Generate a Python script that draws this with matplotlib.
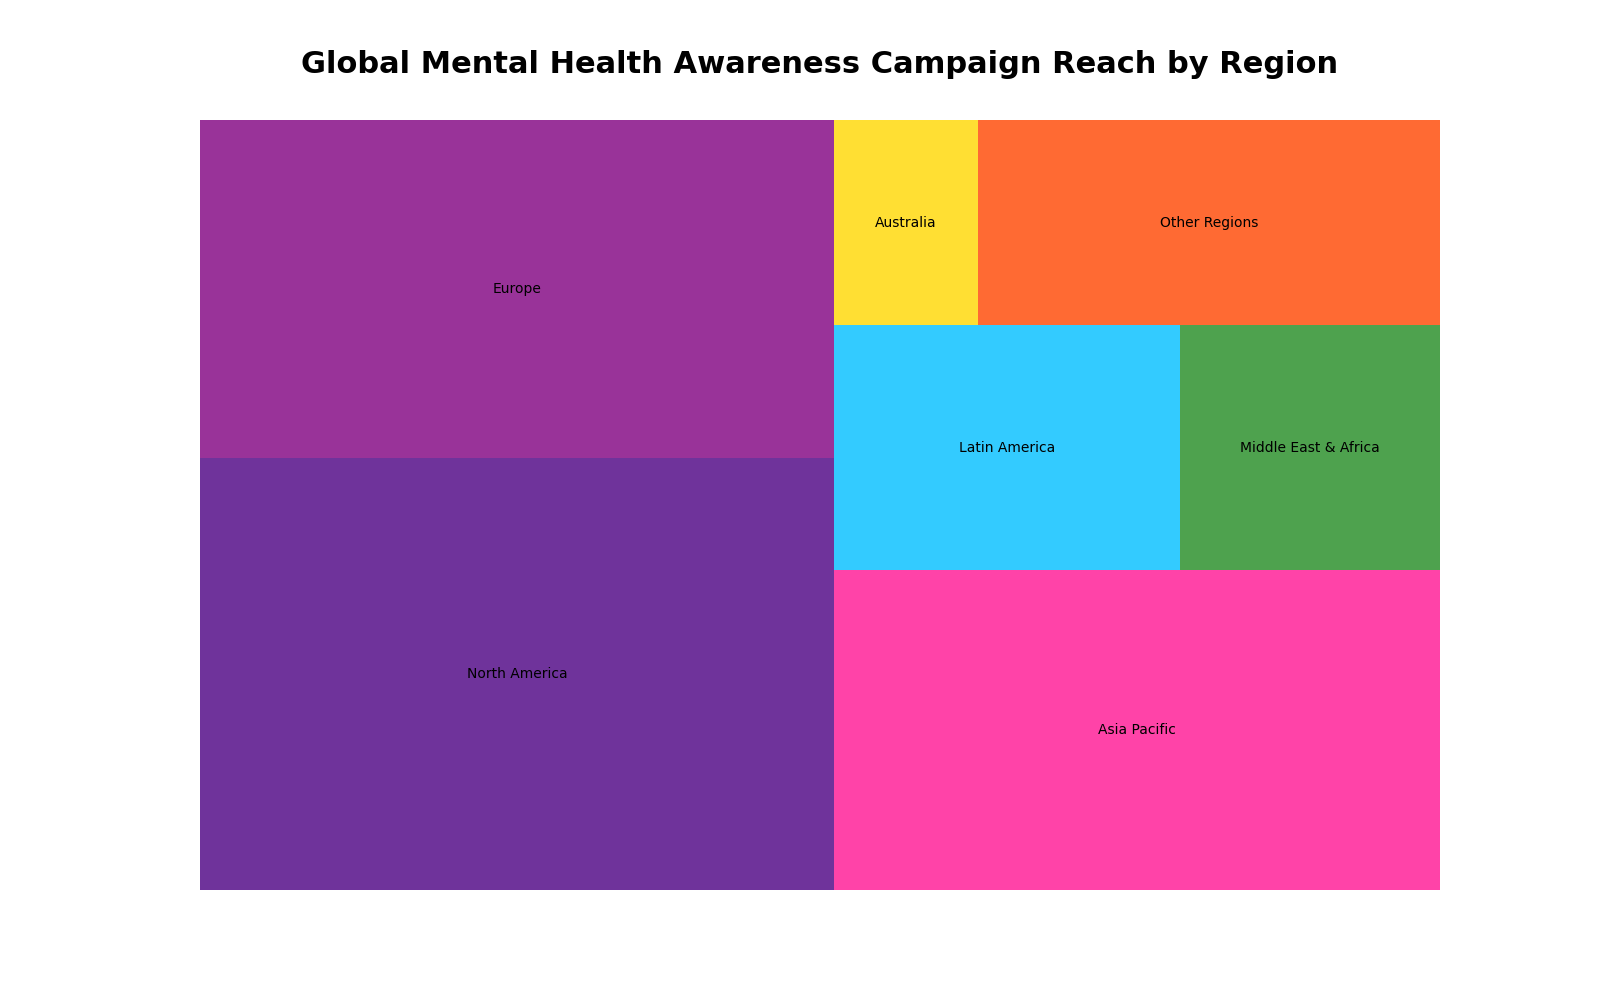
import matplotlib
matplotlib.use("Agg")
import matplotlib.pyplot as plt
from matplotlib.patches import Rectangle

# campaign reach per region (share of total, %)
regions = ["North America", "Europe", "Asia Pacific", "Latin America",
           "Middle East & Africa", "Australia", "Other Regions"]
reach = [28.7, 22.45, 20.3, 8.88, 6.67, 3.09, 9.92]
colors = ["#4B0082", "#800080", "#FF1493", "#00BFFF",
          "#228B22", "#FFD700", "#FF4500"]


# simple squarified treemap layout (same logic as the squarify package)
def layout_row(sizes, x, y, dx, dy):
    w = sum(sizes) / dy
    out = []
    for s in sizes:
        out.append((x, y, w, s / w))
        y += s / w
    return out


def layout_col(sizes, x, y, dx, dy):
    h = sum(sizes) / dx
    out = []
    for s in sizes:
        out.append((x, y, s / h, h))
        x += s / h
    return out


def layout(sizes, x, y, dx, dy):
    if dx >= dy:
        return layout_row(sizes, x, y, dx, dy)
    return layout_col(sizes, x, y, dx, dy)


def leftover(sizes, x, y, dx, dy):
    if dx >= dy:
        w = sum(sizes) / dy
        return x + w, y, dx - w, dy
    h = sum(sizes) / dx
    return x, y + h, dx, dy - h


def worst(sizes, x, y, dx, dy):
    return max(max(r[2] / r[3], r[3] / r[2]) for r in layout(sizes, x, y, dx, dy))


def squarify(sizes, x, y, dx, dy):
    if len(sizes) == 0:
        return []
    if len(sizes) == 1:
        return layout(sizes, x, y, dx, dy)
    i = 1
    while i < len(sizes) and worst(sizes[:i], x, y, dx, dy) >= worst(sizes[:i + 1], x, y, dx, dy):
        i += 1
    cur = sizes[:i]
    lx, ly, ldx, ldy = leftover(cur, x, y, dx, dy)
    return layout(cur, x, y, dx, dy) + squarify(sizes[i:], lx, ly, ldx, ldy)


W, H = 100.0, 100.0
total = sum(reach)
norm = [v * W * H / total for v in reach]
rects = squarify(norm, 0, 0, W, H)

fig, ax = plt.subplots(figsize=(16, 10))
for (x, y, dx, dy), name, c in zip(rects, regions, colors):
    ax.add_patch(Rectangle((x, y), dx, dy, facecolor=c, alpha=0.8, linewidth=0))
    ax.text(x + dx / 2, y + dy / 2, name, ha="center", va="center", fontsize=10)

ax.set_xlim(0, W)
ax.set_ylim(0, H)
ax.axis("off")
ax.set_title("Global Mental Health Awareness Campaign Reach by Region",
             fontsize=22, fontweight="bold", pad=34)

plt.savefig("out.png", dpi=100)
